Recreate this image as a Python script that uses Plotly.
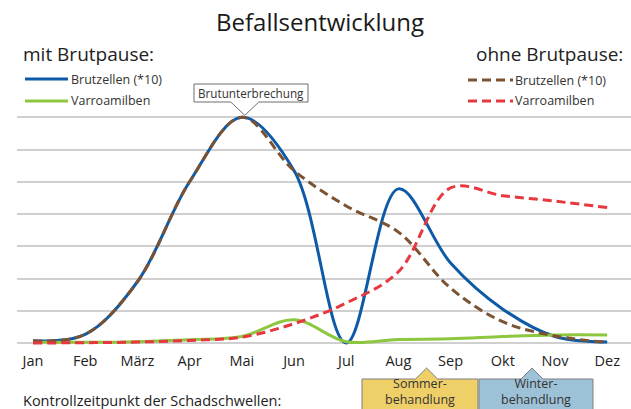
import plotly.graph_objects as go

months = ["Jan", "Feb", "März", "Apr", "Mai", "Jun", "Jul", "Aug", "Sep", "Okt", "Nov", "Dez"]

# mit Brutpause
brut_mit = [0.07, 0.27, 1.9, 5.0, 7.0, 5.35, 0.0, 4.78, 2.48, 1.05, 0.2, 0.03]
varroa_mit = [0.02, 0.02, 0.04, 0.1, 0.2, 0.72, 0.04, 0.11, 0.13, 0.2, 0.25, 0.25]
# ohne Brutpause
brut_ohne = [0.07, 0.27, 1.9, 5.0, 7.0, 5.35, 4.25, 3.44, 1.7, 0.66, 0.22, 0.02]
varroa_ohne = [0.0, 0.01, 0.03, 0.08, 0.18, 0.6, 1.24, 2.21, 4.81, 4.57, 4.4, 4.2]

grid_vals = [0, 1, 2, 3, 4, 5, 6, 7]

W, H = 631, 409
ML, MR, MT, MB = 17, 0, 110, 59
X_RANGE = [-0.3065, 11.456]
Y_RANGE = [-0.217, 7.227]

FONT = "Open Sans"
BLUE = "#0d5aa7"
GREEN = "#8dc63f"
BROWN = "#7b5332"
RED = "#e8383f"
TXT = "#222222"


def px(xp):
    return (xp - ML) / (W - ML - MR)


def py(yp):
    return (H - MB - yp) / (H - MT - MB)


def d2px(xv):
    return ML + (xv - X_RANGE[0]) / (X_RANGE[1] - X_RANGE[0]) * (W - ML - MR)


def d2py(yv):
    return H - MB - (yv - Y_RANGE[0]) / (Y_RANGE[1] - Y_RANGE[0]) * (H - MT - MB)


def path(points):
    s = "M " + " L ".join(f"{px(a):.5f},{py(b):.5f}" for a, b in points) + " Z"
    return s


xs = list(range(len(months)))
fig = go.Figure()
fig.add_trace(go.Scatter(x=xs, y=brut_mit, mode="lines", name="Brutzellen (*10) mit Brutpause",
                         line=dict(color=BLUE, width=3, shape="spline", smoothing=1.0)))
fig.add_trace(go.Scatter(x=xs, y=varroa_mit, mode="lines", name="Varroamilben mit Brutpause",
                         line=dict(color=GREEN, width=3, shape="spline", smoothing=1.0)))
fig.add_trace(go.Scatter(x=xs, y=brut_ohne, mode="lines", name="Brutzellen (*10) ohne Brutpause",
                         line=dict(color=BROWN, width=3, dash="9px,5px", shape="spline", smoothing=1.0)))
fig.add_trace(go.Scatter(x=xs, y=varroa_ohne, mode="lines", name="Varroamilben ohne Brutpause",
                         line=dict(color=RED, width=3, dash="9px,5px", shape="spline", smoothing=1.0)))

shapes = []
annotations = []

# Title
annotations.append(dict(text="Befallsentwicklung", x=px(320), y=py(21), xref="paper", yref="paper",
                        showarrow=False, font=dict(size=24, color="#1a1a1a", family=FONT),
                        xanchor="center", yanchor="middle"))
# Legend headers
annotations.append(dict(text="mit Brutpause:", x=px(23), y=py(54), xref="paper", yref="paper",
                        showarrow=False, font=dict(size=19, color=TXT, family=FONT),
                        xanchor="left", yanchor="middle", xshift=-2))
annotations.append(dict(text="ohne Brutpause:", x=px(623), y=py(54), xref="paper", yref="paper",
                        showarrow=False, font=dict(size=19, color=TXT, family=FONT),
                        xanchor="right", yanchor="middle", xshift=2))

legend_items = [
    (25, 68, 79, BLUE, None, "Brutzellen (*10)", 71),
    (25, 68, 101, GREEN, None, "Varroamilben", 71),
    (468, 513, 80, BROWN, "9px,5px", "Brutzellen (*10)", 515),
    (468, 513, 101, RED, "9px,5px", "Varroamilben", 515),
]
for x0, x1, yy, col, dash, label, tx in legend_items:
    ln = dict(color=col, width=3)
    if dash:
        ln["dash"] = dash
    shapes.append(dict(type="line", xref="paper", yref="paper", x0=px(x0), x1=px(x1),
                       y0=py(yy), y1=py(yy), line=ln))
    annotations.append(dict(text=label, x=px(tx), y=py(yy), xref="paper", yref="paper",
                            showarrow=False, font=dict(size=12.5, color="#333333", family=FONT),
                            xanchor="left", yanchor="middle", xshift=-2))

# Brutunterbrechung callout pointing to May peak
apx = d2px(4) + 3
apy = d2py(7) - 2
shapes.append(dict(type="path", xref="paper", yref="paper",
                   path=path([(194, 84), (308, 84), (308, 102), (apx + 14, 102), (apx, apy),
                              (apx - 14, 102), (194, 102)]),
                   fillcolor="white", line=dict(color="#6e6e6e", width=1), layer="above"))
annotations.append(dict(text="Brutunterbrechung", x=px(251), y=py(93), xref="paper", yref="paper",
                        showarrow=False, font=dict(size=11.7, color="#333333", family=FONT),
                        xanchor="center", yanchor="middle"))

# Bottom: Kontrollzeitpunkt
annotations.append(dict(text="Kontrollzeitpunkt der Schadschwellen:", x=px(23), y=py(400),
                        xref="paper", yref="paper", showarrow=False,
                        font=dict(size=14.5, color=TXT, family=FONT), xanchor="left", yanchor="middle",
                        xshift=-2))

boxes = [
    (362, 478, d2px(7.54), "#efcf68", "Sommer-<br>behandlung"),
    (479, 593, d2px(9.56), "#9dc1d6", "Winter-<br>behandlung"),
]
for bx0, bx1, ax, fill, label in boxes:
    shapes.append(dict(type="path", xref="paper", yref="paper",
                       path=path([(bx0, 379), (ax - 11, 379), (ax, 368), (ax + 11, 379), (bx1, 379),
                                  (bx1, 412), (bx0, 412)]),
                       fillcolor=fill, line=dict(color="#7f7f7f", width=1), layer="above"))
    cx = (bx0 + bx1) / 2
    annotations.append(dict(text=label, x=px(cx), y=py(391), xref="paper", yref="paper", showarrow=False,
                            font=dict(size=12.5, color="#333333", family=FONT),
                            xanchor="center", yanchor="middle"))

fig.update_layout(
    width=W, height=H,
    margin=dict(l=ML, r=MR, t=MT, b=MB, pad=0),
    paper_bgcolor="white", plot_bgcolor="white",
    showlegend=False,
    font=dict(family=FONT, color=TXT),
    shapes=shapes, annotations=annotations,
    xaxis=dict(range=X_RANGE, tickvals=xs, ticktext=months, showgrid=False, zeroline=False,
               showline=False, ticks="", tickfont=dict(size=14.5, color=TXT, family=FONT),
               fixedrange=True),
    yaxis=dict(range=Y_RANGE, tickvals=grid_vals, showticklabels=False, showgrid=True,
               gridcolor="#d0d0d0", gridwidth=2, zeroline=False, showline=False, ticks="",
               fixedrange=True),
)

fig.write_html("out.html", config={"displayModeBar": False},
               post_script="document.body.style.margin='0';document.body.style.overflow='hidden';")
